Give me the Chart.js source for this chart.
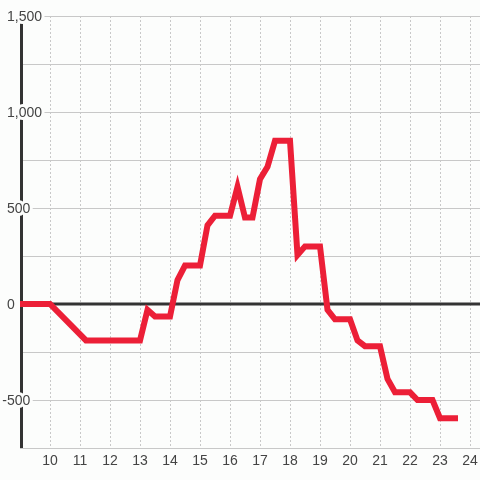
<!DOCTYPE html>
<html>
<head>
<meta charset="utf-8">
<script src="https://cdn.jsdelivr.net/npm/chart.js@4"></script>
<style>
  html, body { margin: 0; padding: 0; background: #fcfdfc; }
  #wrap { width: 480px; height: 480px; }
</style>
</head>
<body>
<div id="wrap"><canvas id="chart" width="480" height="480"></canvas></div>
<script>
// hour of day and value
const hours = [9, 10, 11.2, 13, 13.25, 13.5, 14, 14.25, 14.5, 15, 15.25, 15.5, 16, 16.25, 16.5, 16.75,
  17, 17.25, 17.5, 18, 18.25, 18.5, 19, 19.25, 19.5, 20, 20.25, 20.5, 21, 21.25, 21.5, 22, 22.25,
  22.75, 23, 23.5];
const values = [0, 0, -190, -190, -30, -65, -65, 125, 200, 200, 410, 460, 460, 610, 450, 450,
  650, 715, 850, 850, 255, 300, 300, -30, -80, -80, -190, -220, -220, -390, -460, -460, -500,
  -500, -595, -595];

const xTicks = [10, 11, 12, 13, 14, 15, 16, 17, 18, 19, 20, 21, 22, 23, 24];
const yTicks = [1500, 1000, 500, 0, -500];

const FONT = '14px "Liberation Sans", Arial, sans-serif';
const fmt = new Intl.NumberFormat('en-US');

const axisPlugin = {
  id: 'axisPlugin',
  beforeDatasetsDraw(chart) {
    const { ctx, chartArea, scales: { x, y } } = chart;
    ctx.save();

    // zero line
    const y0 = y.getPixelForValue(0);
    ctx.strokeStyle = '#333';
    ctx.lineWidth = 3;
    ctx.beginPath();
    ctx.moveTo(chartArea.left, y0);
    ctx.lineTo(chartArea.right, y0);
    ctx.stroke();

    // left axis line
    const ax = x.getPixelForValue(9) + 1.5;
    ctx.beginPath();
    ctx.moveTo(ax, chartArea.top);
    ctx.lineTo(ax, chartArea.bottom);
    ctx.stroke();

    // y labels with halo
    ctx.font = FONT;
    ctx.textBaseline = 'middle';
    ctx.textAlign = 'left';
    ctx.lineJoin = 'round';
    yTicks.forEach((v) => {
      const label = fmt.format(v);
      const py = y.getPixelForValue(v) + 1;
      let px = 7;
      if (v < 0) px -= ctx.measureText('-').width;
      ctx.strokeStyle = '#fcfdfc';
      ctx.lineWidth = 6;
      ctx.strokeText(label, px, py);
      ctx.fillStyle = '#444';
      ctx.fillText(label, px, py);
    });

    // x labels
    ctx.textAlign = 'center';
    xTicks.forEach((v) => {
      ctx.fillStyle = '#444';
      ctx.fillText(String(v), x.getPixelForValue(v), chartArea.bottom + 13);
    });

    ctx.restore();
  },
};

new Chart(document.getElementById('chart'), {
  type: 'line',
  data: {
    datasets: [
      {
        data: hours.map((h, i) => ({ x: h, y: values[i] })),
        borderColor: '#ec1f37',
        borderWidth: 6,
        borderCapStyle: 'square',
        borderJoinStyle: 'miter',
        pointRadius: 0,
        tension: 0,
        fill: false,
      },
    ],
  },
  options: {
    responsive: false,
    animation: false,
    layout: { padding: { left: 20, top: 16, right: 0, bottom: 32 } },
    plugins: {
      legend: { display: false },
      tooltip: { enabled: false },
    },
    scales: {
      x: {
        type: 'linear',
        min: 9,
        max: 24 + 1 / 3,
        afterBuildTicks: (scale) => {
          scale.ticks = xTicks.map((v) => ({ value: v }));
        },
        ticks: { display: false },
        grid: { color: '#c8c8c8', lineWidth: 1, drawTicks: false },
        border: { display: false, dash: [2, 2] },
      },
      y: {
        min: -750,
        max: 1500,
        ticks: { display: false, stepSize: 250 },
        grid: { color: '#c8c8c8', lineWidth: 1, drawTicks: false },
        border: { display: false },
      },
    },
  },
  plugins: [axisPlugin],
});
</script>
</body>
</html>
